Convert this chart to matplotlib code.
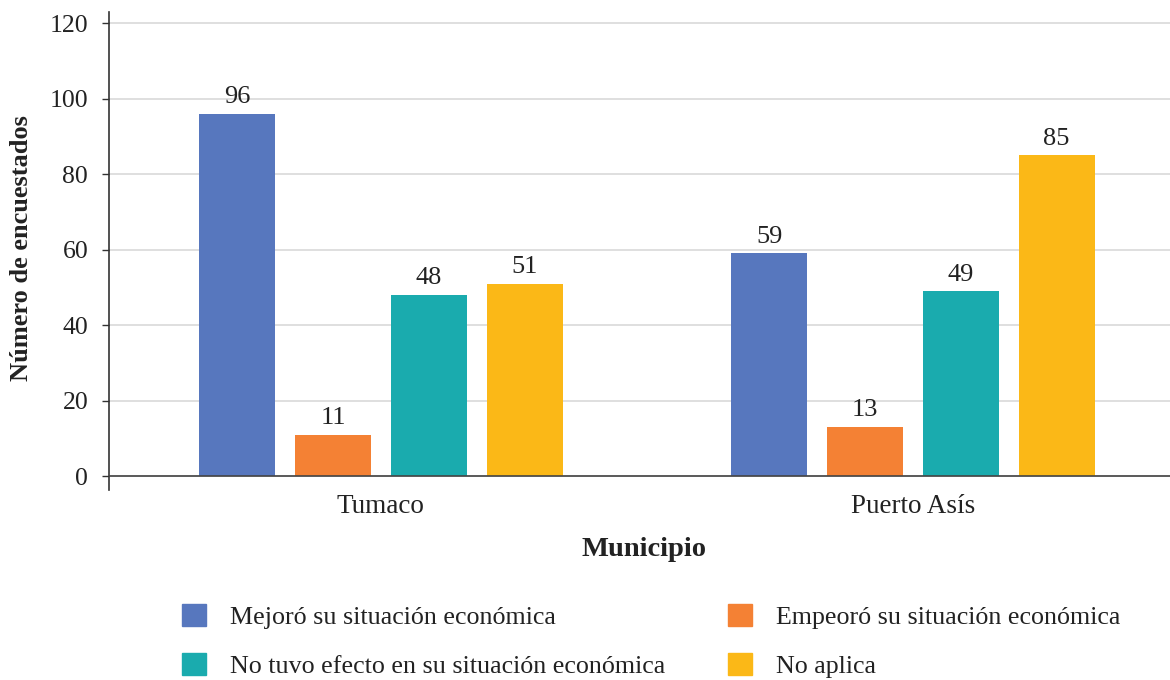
import matplotlib
matplotlib.use("Agg")
import matplotlib.pyplot as plt
import numpy as np
from matplotlib.patches import Patch

plt.rcParams['font.family'] = ['Liberation Serif', 'DejaVu Serif']

municipios = ["Tumaco", "Puerto Asís"]
series_names = ["Mejoró su situación económica",
                "Empeoró su situación económica",
                "No tuvo efecto en su situación económica",
                "No aplica"]
mejoro = [96, 59]
empeoro = [11, 13]
no_efecto = [48, 49]
no_aplica = [51, 85]
colors = ["#5777BE", "#F48134", "#1AABAE", "#FBB817"]
yticks = [0, 20, 40, 60, 80, 100, 120]

values = [mejoro, empeoro, no_efecto, no_aplica]

fig = plt.figure(figsize=(11.7, 6.8), dpi=100)
ax = fig.add_axes([109/1170, 1-490/680, 1-109/1170, (490-12)/680])

x = np.arange(len(municipios))
w = 0.143
step = 0.180
offsets = (np.arange(4) - 1.6) * step + 0.018
for i, (vals, c) in enumerate(zip(values, colors)):
    bars = ax.bar(x + offsets[i], vals, width=w, color=c, zorder=3)
    for b, v in zip(bars, vals):
        ax.annotate(str(v), (b.get_x() + b.get_width()/2, v), xytext=(0, 4),
                    textcoords="offset points", ha="center", va="bottom",
                    fontsize=19, color="#222222")

ax.set_xlim(-0.511, 1.483)
ax.set_ylim(-3.7, 123)
ax.set_yticks(yticks)
ax.set_yticklabels([str(t) for t in yticks], fontsize=18.5, color="#222222")
ax.set_xticks(x)
ax.set_xticklabels(municipios, fontsize=19.5, color="#222222")
ax.tick_params(axis='x', length=0, pad=3)
ax.tick_params(axis='y', length=5, width=1, color="#333333", pad=10)
ax.grid(axis='y', color="#d9d9d9", linewidth=1.2, zorder=0)
ax.axhline(0, color="#444444", linewidth=1.2, zorder=4)
for s in ["top", "right", "bottom"]:
    ax.spines[s].set_visible(False)
ax.spines["left"].set_color("#333333")
ax.spines["left"].set_linewidth(1.2)

fig.text(22/1170, 1-248/680, "Número de encuestados", rotation=90, ha="center",
         va="center", fontsize=19, fontweight="bold", color="#222222")
fig.text(644/1170, 1-550/680, "Municipio", ha="center", va="center",
         fontsize=20.5, fontweight="bold", color="#222222")

handles = [Patch(color=c) for c in colors]
order = [0, 2, 1, 3]
fig.legend([handles[i] for i in order], [series_names[i] for i in order],
           ncol=2, loc="center", bbox_to_anchor=(651/1170, 1-641/680),
           frameon=False, fontsize=18.7, handlelength=0.93, handleheight=0.93,
           handletextpad=0.92, columnspacing=2.4, labelspacing=0.9,
           labelcolor="#222222")

fig.savefig("out.png", dpi=100)
